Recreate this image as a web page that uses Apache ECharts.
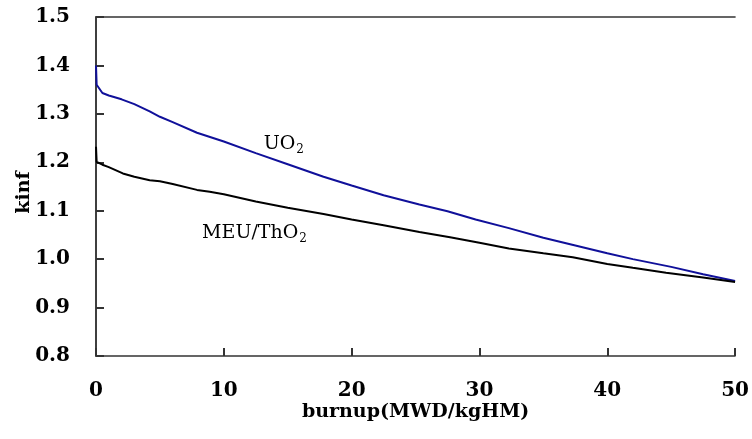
<!DOCTYPE html>
<html>
<head>
<meta charset="utf-8">
<script src="https://cdn.jsdelivr.net/npm/echarts@6/dist/echarts.min.js"></script>
<style>
  html, body { margin: 0; padding: 0; background: #fff; }
  #chart { width: 752px; height: 439px; }
</style>
</head>
<body>
<div id="chart"></div>
<script>
// Infinite multiplication factor versus burnup for two fuel types
const burnupUO2 = [0, 0.05, 0.5, 1, 2, 3, 4.2, 5, 6, 7.9, 10, 12.5, 15, 17.8, 20, 22.5, 25.3, 27.5, 29.7, 32.3, 35, 37.5, 40, 42, 45, 47.5, 50];
const kinfUO2   = [1.400, 1.360, 1.343, 1.338, 1.330, 1.320, 1.305, 1.294, 1.283, 1.261, 1.243, 1.219, 1.196, 1.170, 1.152, 1.132, 1.113, 1.099, 1.082, 1.064, 1.044, 1.028, 1.012, 1.000, 0.984, 0.969, 0.955];

const burnupMEU = [0, 0.05, 0.5, 1, 2.1, 3, 4.2, 5, 6, 7.9, 8.9, 10, 12.5, 15, 17.8, 20, 22.5, 25.3, 27.7, 30, 32.3, 35, 37.3, 40, 42, 44.6, 47.5, 50];
const kinfMEU   = [1.232, 1.201, 1.195, 1.190, 1.177, 1.170, 1.163, 1.161, 1.155, 1.143, 1.139, 1.134, 1.119, 1.106, 1.093, 1.082, 1.070, 1.056, 1.045, 1.034, 1.022, 1.012, 1.004, 0.990, 0.982, 0.972, 0.962, 0.953];

// Curve labels: [burnup, kinf] anchor points
const labelUO2 = [14.7, 1.238];
const labelMEU = [12.4, 1.054];

const xTicks = [0, 10, 20, 30, 40, 50];
const yTicks = [0.8, 0.9, 1.0, 1.1, 1.2, 1.3, 1.4, 1.5];

const FONT = 'DejaVu Serif';
const AXIS_COLOR = '#333';

function tick() { return { show: true, inside: true, length: 8, lineStyle: { color: AXIS_COLOR, width: 2 } }; }
function pairs(xs, ys) { return xs.map((x, i) => [x, ys[i]]); }

const subRich = {
  a: { fontFamily: FONT, fontSize: 19, color: '#000', lineHeight: 24 },
  s: { fontFamily: FONT, fontSize: 12, color: '#000', lineHeight: 24, verticalAlign: 'bottom', padding: [0, 0, 0, 1] }
};

const xMin = xTicks[0], xMax = xTicks[xTicks.length - 1];
const yMin = yTicks[0], yMax = yTicks[yTicks.length - 1];

const chart = echarts.init(document.getElementById('chart'));
chart.setOption({
  animation: false,
  grid: { left: 96, right: 16, top: 17, bottom: 83 },
  xAxis: [
    {
      type: 'value', position: 'bottom',
      min: xMin, max: xMax, interval: 10,
      name: 'burnup(MWD/kgHM)',
      nameLocation: 'middle',
      nameGap: 47,
      nameMoveOverlap: false,
      nameTextStyle: { fontFamily: FONT, fontSize: 19, fontWeight: 'bold', color: '#000' },
      axisLine: { show: true, lineStyle: { color: AXIS_COLOR, width: 1.5 } },
      axisTick: tick(),
      axisLabel: { fontFamily: FONT, fontSize: 20, fontWeight: 'bold', color: '#000', margin: 25 },
      splitLine: { show: false }
    },
    {
      // top edge of the frame
      type: 'value', position: 'top',
      min: xMin, max: xMax, interval: 10,
      axisLine: { show: true, lineStyle: { color: AXIS_COLOR, width: 1.5 } },
      axisTick: { show: false }, axisLabel: { show: false }, splitLine: { show: false }
    }
  ],
  yAxis: [
    {
      type: 'value', position: 'left',
      min: yMin, max: yMax, interval: 0.1,
      name: 'kinf',
      nameLocation: 'middle',
      nameGap: 62,
      nameMoveOverlap: false,
      nameTextStyle: { fontFamily: FONT, fontSize: 19, fontWeight: 'bold', color: '#000', padding: [0, 12, 0, 0] },
      axisLine: { show: true, lineStyle: { color: AXIS_COLOR, width: 1.5 } },
      axisTick: tick(),
      axisLabel: { fontFamily: FONT, fontSize: 20, fontWeight: 'bold', color: '#000', margin: 26, formatter: v => v.toFixed(1) },
      splitLine: { show: false }
    },
    {
      // right edge of the frame
      type: 'value', position: 'right',
      min: yMin, max: yMax, interval: 0.1,
      axisLine: { show: true, lineStyle: { color: AXIS_COLOR, width: 1.5 } },
      axisTick: { show: false }, axisLabel: { show: false }, splitLine: { show: false }
    }
  ],
  series: [
    {
      name: 'UO2', type: 'line', data: pairs(burnupUO2, kinfUO2),
      showSymbol: false,
      lineStyle: { color: '#10109a', width: 2 },
      markPoint: {
        symbol: 'circle', symbolSize: 1,
        itemStyle: { color: 'rgba(0,0,0,0)' },
        data: [{ coord: labelUO2, value: 'UO2' }],
        label: { show: true, position: 'inside', formatter: '{a|UO}{s|2}', rich: subRich }
      }
    },
    {
      name: 'MEU/ThO2', type: 'line', data: pairs(burnupMEU, kinfMEU),
      showSymbol: false,
      lineStyle: { color: '#000', width: 2 },
      markPoint: {
        symbol: 'circle', symbolSize: 1,
        itemStyle: { color: 'rgba(0,0,0,0)' },
        data: [{ coord: labelMEU, value: 'MEU/ThO2' }],
        label: { show: true, position: 'inside', formatter: '{a|MEU/ThO}{s|2}', rich: subRich }
      }
    }
  ]
});
</script>
</body>
</html>
